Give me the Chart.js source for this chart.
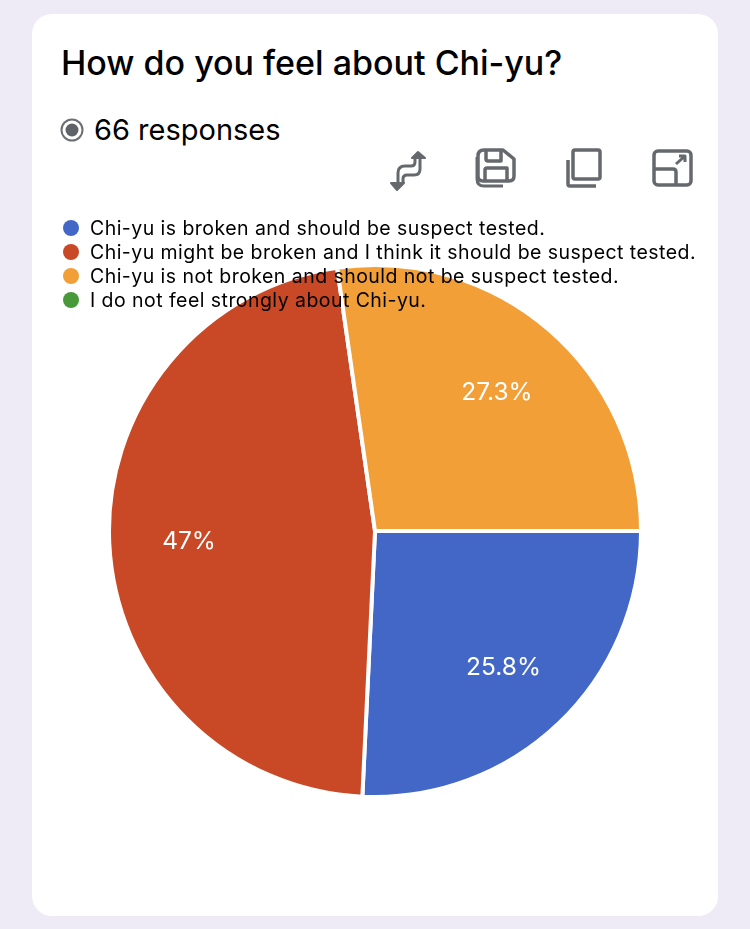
<!DOCTYPE html>
<html>
<head>
<meta charset="utf-8">
<title>How do you feel about Chi-yu?</title>
<script src="https://cdn.jsdelivr.net/npm/chart.js@4"></script>
<style>
  html, body { margin: 0; padding: 0; }
  body { width: 750px; height: 929px; background: #eeebf7; position: relative; overflow: hidden; font-family: Inter, "Noto Sans", sans-serif; color: #000; }
  #card { position: absolute; left: 32px; top: 14px; width: 686px; height: 902px; background: #fff; border-radius: 20px; }
  #title { position: absolute; left: 61px; top: 41px; font-size: 34px; font-weight: 500; line-height: 44px; white-space: nowrap; }
  #count { position: absolute; left: 94px; top: 112px; font-size: 29px; line-height: 36px; white-space: nowrap; }
  .abs { position: absolute; }
  #chartBox { position: absolute; left: 107px; top: 263px; width: 536px; height: 536px; }
  #legend { position: absolute; left: 62px; top: 216px; font-size: 19.5px; line-height: 24px; letter-spacing: 0.45px; white-space: nowrap; }
  #legend div { position: relative; padding-left: 28px; }
  #legend span { position: absolute; left: 1px; top: 4px; width: 16px; height: 16px; border-radius: 50%; }
</style>
</head>
<body>
<div id="card"></div>
<div id="title">How do you feel about Chi-yu?</div>
<svg class="abs" style="left:60px;top:118px" width="24" height="24">
  <circle cx="12" cy="12" r="10.5" fill="none" stroke="#6b6e73" stroke-width="2"/>
  <circle cx="12" cy="12" r="6.5" fill="#5f6368"/>
</svg>
<div id="count">66 responses</div>

<svg class="abs" style="left:385px;top:146px" width="320" height="50" fill="none" stroke="#65686c" stroke-width="3.5" stroke-linejoin="round">
  <!-- swap -->
  <path d="M13 37 V27 Q13 20 20 20 H26 Q30 20 30 16 V12" stroke-width="3"/>
  <path d="M35 12 V23 Q35 29 29 29 H22 Q18 29 18 33 V37" stroke-width="3"/>
  <path d="M27 12 L33 6 L40 12 Z" fill="#65686c" stroke-width="2"/>
  <path d="M6 37 L12 44 L19 37 Z" fill="#65686c" stroke-width="2"/>
  <!-- save -->
  <path d="M93 10 Q93 4 99 4 H118 L129 13 V30 Q129 35 124 35 H98 Q93 35 93 30 Z"/>
  <path d="M101 4 V13 Q101 15 103 15 H116 V4"/>
  <path d="M100 35 V24 Q100 22 102 22 H122 V35"/>
  <path d="M92 11 V33 Q92 40 99 40 H118" stroke-width="3"/>
  <!-- copy -->
  <rect x="188" y="4" width="27" height="29" rx="2"/>
  <path d="M183 14 V38 Q183 40 185 40 H211"/>
  <!-- open -->
  <rect x="269" y="5" width="37" height="34" rx="4"/>
  <path d="M270 23 H288 Q291 23 291 26 V38"/>
  <path d="M291 18 L300 10 M294 10 H300 V16" stroke-width="3"/>
</svg>

<div id="chartBox"><canvas id="pie"></canvas></div>
<div id="legend"></div>

<script>
const categories = [
  'Chi-yu is broken and should be suspect tested.',
  'Chi-yu might be broken and I think it should be suspect tested.',
  'Chi-yu is not broken and should not be suspect tested.',
  'I do not feel strongly about Chi-yu.'
];
const responses = [17, 31, 18, 0];
const percentLabels = ['25.8%', '47%', '27.3%', ''];
const sliceColors = ['#4267c7', '#c94825', '#f29f38', '#47993a'];

// percent text inside the slices
const sliceLabels = {
  id: 'sliceLabels',
  afterDatasetsDraw(chart) {
    const ctx = chart.ctx;
    const arcs = chart.getDatasetMeta(0).data;
    ctx.save();
    ctx.fillStyle = '#fff';
    ctx.font = '24.5px Inter, "Noto Sans", sans-serif';
    ctx.textAlign = 'center';
    ctx.textBaseline = 'middle';
    arcs.forEach((arc, i) => {
      if (!percentLabels[i]) return;
      const mid = (arc.startAngle + arc.endAngle) / 2;
      const r = arc.outerRadius * 0.7;
      ctx.fillText(percentLabels[i], arc.x + Math.cos(mid) * r, arc.y + Math.sin(mid) * r + 2);
    });
    ctx.restore();
  }
};

new Chart(document.getElementById('pie'), {
  type: 'pie',
  data: {
    labels: categories,
    datasets: [{
      data: responses,
      backgroundColor: sliceColors,
      borderColor: '#fff',
      borderWidth: 4
    }]
  },
  options: {
    responsive: true,
    maintainAspectRatio: true,
    aspectRatio: 1,
    animation: false,
    rotation: 90,
    plugins: {
      legend: { display: false },
      tooltip: { enabled: false }
    }
  },
  plugins: [sliceLabels]
});

const legend = document.getElementById('legend');
categories.forEach((name, i) => {
  const row = document.createElement('div');
  const dot = document.createElement('span');
  dot.style.background = sliceColors[i];
  row.appendChild(dot);
  row.appendChild(document.createTextNode(name));
  legend.appendChild(row);
});
</script>
</body>
</html>
